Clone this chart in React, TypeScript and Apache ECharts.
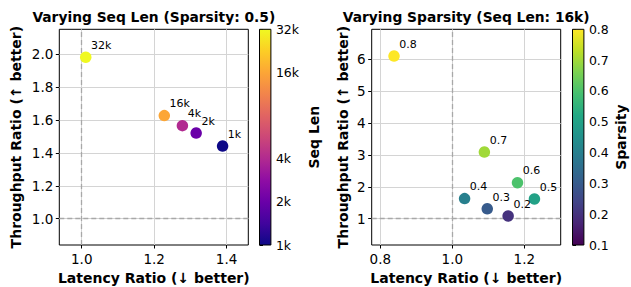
import React, { useEffect, useRef } from "react";
import * as echarts from "echarts";

// ---- Data: left panel (varying sequence length, sparsity 0.5) ----
const seqLabels = ["1k", "2k", "4k", "16k", "32k"];
const seqLenK = [1, 2, 4, 16, 32];
const seqLatency = [1.389, 1.316, 1.278, 1.228, 1.011];
const seqThroughput = [1.442, 1.521, 1.566, 1.627, 1.982];

// ---- Data: right panel (varying sparsity, seq len 16k) ----
const sparsity = [0.2, 0.3, 0.4, 0.5, 0.6, 0.7, 0.8];
const spLatency = [1.155, 1.097, 1.034, 1.228, 1.181, 1.089, 0.838];
const spThroughput = [1.085, 1.31, 1.63, 1.62, 2.13, 3.09, 6.1];

// ---- Tick values / labels ----
const leftXTicks = [1.0, 1.2, 1.4];
const leftYTicks = [1.0, 1.2, 1.4, 1.6, 1.8, 2.0];
const rightXTicks = [0.8, 1.0, 1.2];
const rightYTicks = [1, 2, 3, 4, 5, 6];
const seqCbarTicks = [1, 2, 4, 16, 32];
const seqCbarLabels = ["1k", "2k", "4k", "16k", "32k"];
const spCbarTicks = [0.1, 0.2, 0.3, 0.4, 0.5, 0.6, 0.7, 0.8];

// ---- Colormaps ----
const plasma = [
  "#0d0887", "#41049d", "#6a00a8", "#8f0da4", "#b12a90", "#cc4778",
  "#e16462", "#f2844b", "#fca636", "#fcce25", "#f0f921",
];
const viridis = [
  "#440154", "#482475", "#414487", "#355f8d", "#2a788e", "#21918c",
  "#22a884", "#44bf70", "#7ad151", "#bddf26", "#fde725",
];

const FONT = "DejaVu Sans";

const L = { left: 59.3, top: 29.3, width: 189, height: 215.7 };
const R = { left: 371.7, top: 29.3, width: 189, height: 215.7 };
const CB_L = { left: 259.5, top: 29.3, width: 11.4, height: 215.7 };
const CB_R = { left: 572.5, top: 29.3, width: 11.4, height: 215.7 };

function gradient(stops: string[]) {
  return new echarts.graphic.LinearGradient(
    0, 1, 0, 0,
    stops.map((c, i) => ({ offset: i / (stops.length - 1), color: c }))
  );
}

function mainAxis(
  gridIndex: number,
  min: number,
  max: number,
  splitNumber: number,
  ticks: number[],
  fmt: (v: number) => string,
  name: string,
  nameGap: number,
  isY: boolean
) {
  return {
    type: "value",
    gridIndex,
    min,
    max,
    splitNumber,
    name,
    nameLocation: "middle",
    nameGap,
    nameRotate: isY ? 90 : 0,
    nameTextStyle: { fontFamily: FONT, fontWeight: "bold", fontSize: 14, color: "#000" },
    axisLine: { show: false },
    axisTick: {
      show: true,
      length: 3.5,
      inside: false,
      customValues: ticks,
      lineStyle: { color: "#000", width: 1 },
    },
    axisLabel: {
      show: true,
      customValues: ticks,
      formatter: (v: number) => fmt(v),
      fontFamily: FONT,
      fontSize: 13.5,
      color: "#000",
      margin: isY ? 6 : 7,
    },
    splitLine: { show: true, lineStyle: { color: "#d4d4d4", width: 1 } },
  };
}

function cbarYAxis(
  gridIndex: number,
  min: number,
  max: number,
  ticks: number[],
  fmt: (v: number) => string,
  name: string,
  nameGap: number
) {
  return {
    type: "value",
    gridIndex,
    min,
    max,
    position: "right",
    name,
    nameLocation: "middle",
    nameGap,
    nameRotate: 90,
    nameTextStyle: { fontFamily: FONT, fontWeight: "bold", fontSize: 14, color: "#000" },
    axisLine: { show: false },
    axisTick: {
      show: true,
      length: 3.5,
      customValues: ticks,
      lineStyle: { color: "#000", width: 1 },
    },
    axisLabel: {
      show: true,
      customValues: ticks,
      formatter: (v: number) => fmt(v),
      fontFamily: FONT,
      fontSize: 12.5,
      lineHeight: 11,
      color: "#000",
      margin: 5,
    },
    splitLine: { show: false },
  };
}

function cbarSeries(axisIndex: number, min: number, max: number, stops: string[]) {
  return {
    type: "custom",
    xAxisIndex: axisIndex,
    yAxisIndex: axisIndex,
    silent: true,
    data: [[0]],
    renderItem: (_p: any, api: any) => {
      const p0 = api.coord([0, min]);
      const p1 = api.coord([1, max]);
      return {
        type: "rect",
        shape: { x: p0[0], y: p1[1], width: p1[0] - p0[0], height: p0[1] - p1[1] },
        style: { fill: gradient(stops), stroke: "#000", lineWidth: 1 },
      };
    },
  };
}

function markLines() {
  return {
    silent: true,
    z: 1,
    symbol: ["none", "none"],
    label: { show: false },
    lineStyle: { type: [5, 3], color: "#a8a8a8", width: 1.3, opacity: 1 },
    data: [{ xAxis: 1.0 }, { yAxis: 1.0 }],
  };
}

const pointLabel = {
  show: true,
  formatter: "{b}",
  position: [11, -6],
  align: "left",
  verticalAlign: "middle",
  fontFamily: FONT,
  fontSize: 11,
  color: "#000",
};

export default function App() {
  const ref = useRef<HTMLDivElement>(null);

  useEffect(() => {
    document.body.style.margin = "0";
    if (!ref.current) return;
    const chart = echarts.init(ref.current, undefined, { renderer: "svg" });

    const leftData = seqLabels.map((n, i) => ({
      name: n,
      value: [seqLatency[i], seqThroughput[i], Math.log2(seqLenK[i])],
    }));
    const rightData = sparsity.map((s, i) => ({
      name: s.toFixed(1),
      value: [spLatency[i], spThroughput[i], s],
    }));

    const gridBase = {
      show: true,
      borderColor: "#000",
      borderWidth: 1,
      containLabel: false,
      outerBoundsMode: "none",
    };
    const titleStyle = {
      fontFamily: FONT,
      fontWeight: "bold",
      fontSize: 13.8,
      lineHeight: 14,
      color: "#000",
    };

    chart.setOption({
      animation: false,
      backgroundColor: "#fff",
      title: [
        {
          text: "Varying Seq Len (Sparsity: 0.5)",
          left: L.left + L.width / 2,
          top: 10,
          padding: 0,
          textAlign: "center",
          textStyle: titleStyle,
        },
        {
          text: "Varying Sparsity (Seq Len: 16k)",
          left: R.left + R.width / 2,
          top: 10,
          padding: 0,
          textAlign: "center",
          textStyle: titleStyle,
        },
      ],
      grid: [
        { ...gridBase, ...L },
        { ...gridBase, ...R },
        { ...CB_L, show: false, outerBoundsMode: "none" },
        { ...CB_R, show: false, outerBoundsMode: "none" },
      ],
      xAxis: [
        mainAxis(0, 0.938, 1.46, 3, leftXTicks, (v) => v.toFixed(1), "Latency Ratio (↓ better)", 25, false),
        mainAxis(1, 0.776, 1.301, 3, rightXTicks, (v) => v.toFixed(1), "Latency Ratio (↓ better)", 25, false),
        { type: "value", gridIndex: 2, min: 0, max: 1, show: false },
        { type: "value", gridIndex: 3, min: 0, max: 1, show: false },
      ],
      yAxis: [
        mainAxis(0, 0.84, 2.152, 6, leftYTicks, (v) => v.toFixed(1), "Throughput Ratio (↑ better)", 36, true),
        mainAxis(1, 0.175, 6.94, 6, rightYTicks, (v) => String(Math.round(v)), "Throughput Ratio (↑ better)", 22, true),
        cbarYAxis(
          2, 0, 5, seqCbarTicks.map((t) => Math.log2(t)),
          (v) => seqCbarLabels[seqCbarTicks.findIndex((t) => Math.abs(Math.log2(t) - v) < 1e-6)] ?? "",
          "Seq Len", 36
        ),
        cbarYAxis(3, 0.1, 0.8, spCbarTicks, (v) => v.toFixed(1), "Sparsity", 30),
      ],
      visualMap: [
        { type: "continuous", show: false, seriesIndex: 0, dimension: 2, min: 0, max: 5, inRange: { color: plasma } },
        { type: "continuous", show: false, seriesIndex: 1, dimension: 2, min: 0.1, max: 0.8, inRange: { color: viridis } },
      ],
      series: [
        {
          type: "scatter",
          xAxisIndex: 0,
          yAxisIndex: 0,
          symbolSize: 11.5,
          z: 3,
          itemStyle: { opacity: 1 },
          data: leftData,
          label: pointLabel,
          markLine: markLines(),
        },
        {
          type: "scatter",
          xAxisIndex: 1,
          yAxisIndex: 1,
          symbolSize: 11.5,
          z: 3,
          itemStyle: { opacity: 1 },
          data: rightData,
          label: pointLabel,
          markLine: markLines(),
        },
        cbarSeries(2, 0, 5, plasma),
        cbarSeries(3, 0.1, 0.8, viridis),
      ],
    });

    return () => chart.dispose();
  }, []);

  return <div ref={ref} style={{ width: 631, height: 287 }} />;
}
